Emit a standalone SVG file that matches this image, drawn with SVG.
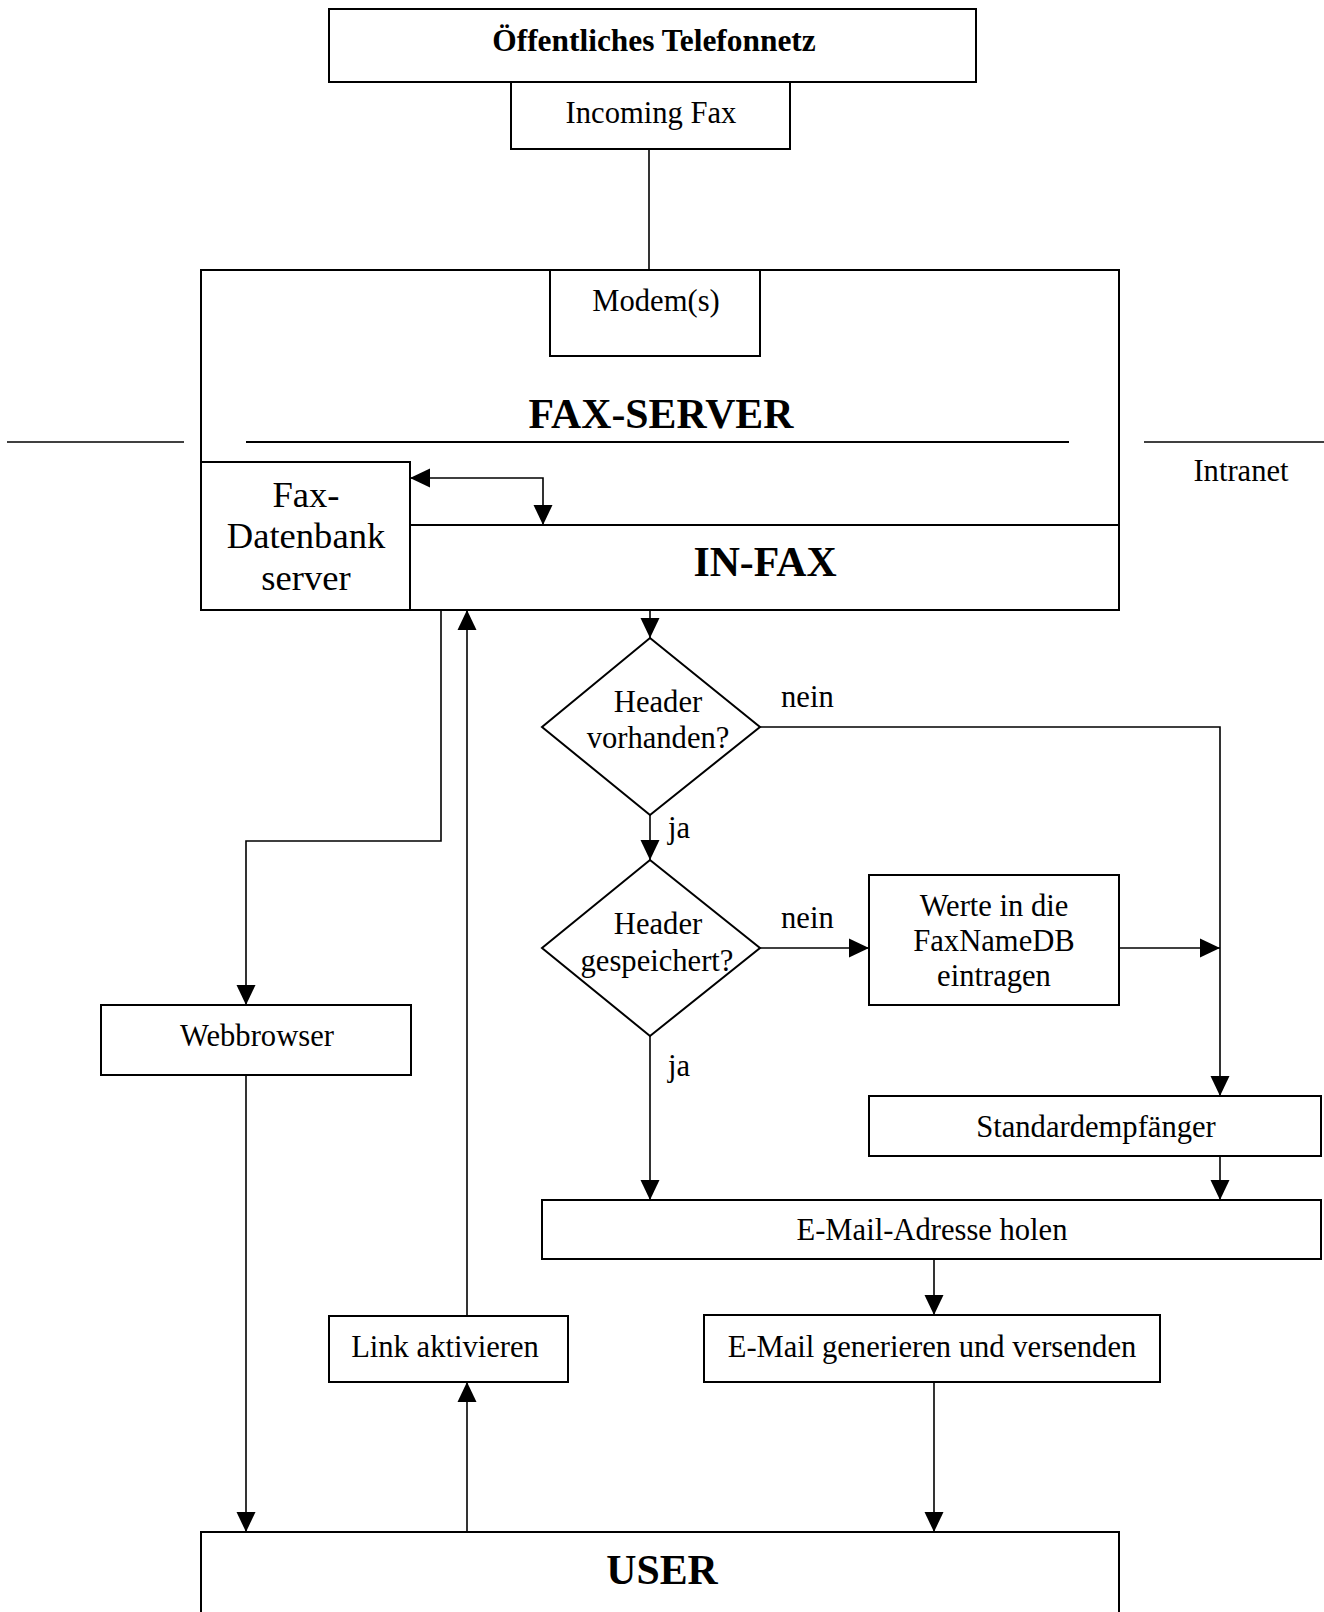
<svg xmlns="http://www.w3.org/2000/svg" width="1324" height="1612" viewBox="0 0 1324 1612">
<style>
  .box { fill: #fff; stroke: #000; stroke-width: 2; }
  .shape { fill: none; stroke: #000; stroke-width: 2; }
  .conn { fill: none; stroke: #000; stroke-width: 1.6; }
  .t { font-family: "Liberation Serif", "Times New Roman", serif; font-size: 30.6px; fill: #000; text-anchor: middle; }
  .tb { font-family: "Liberation Serif", "Times New Roman", serif; font-weight: bold; font-size: 41.8px; fill: #000; text-anchor: middle; }
  .tl { font-family: "Liberation Serif", "Times New Roman", serif; font-size: 36.6px; fill: #000; text-anchor: middle; }
  .ts { font-family: "Liberation Serif", "Times New Roman", serif; font-weight: bold; font-size: 31.4px; fill: #000; text-anchor: middle; }
  .lbl { font-family: "Liberation Serif", "Times New Roman", serif; font-size: 30.6px; fill: #000; }
</style>
<defs>
  <marker id="ah" markerWidth="20" markerHeight="20" viewBox="0 0 20 20" refX="20" refY="10" orient="auto-start-reverse" markerUnits="userSpaceOnUse">
    <path d="M0,0.5 L20,10 L0,19.5 Z" fill="#000"/>
  </marker>
</defs>
<rect width="1324" height="1612" fill="#fff"/>

<g id="intranet">
  <path class="conn" d="M7,442 H184"/>
  <path class="conn" d="M1144,442 H1324"/>
  <text class="t" x="1241" y="481">Intranet</text>
</g>

<g id="telefonnetz">
  <rect class="box" x="329" y="9" width="647" height="73"/>
  <text class="ts" x="654" y="51">Öffentliches Telefonnetz</text>
</g>

<g id="incoming-fax">
  <rect class="box" x="511" y="82" width="279" height="67"/>
  <text class="t" x="651" y="123">Incoming Fax</text>
</g>

<g id="fax-server">
  <rect class="box" x="201" y="270" width="918" height="340"/>
  <text class="tb" x="661" y="428">FAX-SERVER</text>
  <path class="shape" d="M246,442 H1069"/>
</g>

<g id="modem">
  <rect class="box" x="550" y="270" width="210" height="86"/>
  <text class="t" x="656" y="311">Modem(s)</text>
</g>

<g id="fax-datenbankserver">
  <rect class="box" x="201" y="462" width="209" height="148"/>
  <text class="tl" x="306" y="507">Fax-</text>
  <text class="tl" x="306" y="548">Datenbank</text>
  <text class="tl" x="306" y="590">server</text>
</g>

<g id="in-fax">
  <path class="shape" d="M410,525 H1119"/>
  <text class="tb" x="765" y="576">IN-FAX</text>
</g>

<g id="header-vorhanden">
  <polygon class="box" points="650,638 760,727 650,815 542,727"/>
  <text class="t" x="658" y="712">Header</text>
  <text class="t" x="658" y="748">vorhanden?</text>
</g>

<g id="header-gespeichert">
  <polygon class="box" points="650,860 760,948 650,1036 542,948"/>
  <text class="t" x="658" y="934">Header</text>
  <text class="t" x="657" y="971">gespeichert?</text>
</g>

<g id="werte-eintragen">
  <rect class="box" x="869" y="875" width="250" height="130"/>
  <text class="t" x="994" y="916">Werte in die</text>
  <text class="t" x="994" y="951">FaxNameDB</text>
  <text class="t" x="994" y="986">eintragen</text>
</g>

<g id="standardempfaenger">
  <rect class="box" x="869" y="1096" width="452" height="60"/>
  <text class="t" x="1096" y="1137">Standardempfänger</text>
</g>

<g id="email-adresse">
  <rect class="box" x="542" y="1200" width="779" height="59"/>
  <text class="t" x="932" y="1240">E-Mail-Adresse holen</text>
</g>

<g id="email-generieren">
  <rect class="box" x="704" y="1315" width="456" height="67"/>
  <text class="t" x="932" y="1357">E-Mail generieren und versenden</text>
</g>

<g id="webbrowser">
  <rect class="box" x="101" y="1005" width="310" height="70"/>
  <text class="t" x="257" y="1046">Webbrowser</text>
</g>

<g id="link-aktivieren">
  <rect class="box" x="329" y="1316" width="239" height="66"/>
  <text class="t" x="445" y="1357">Link aktivieren</text>
</g>

<g id="user">
  <rect class="box" x="201" y="1532" width="918" height="100"/>
  <text class="tb" x="662" y="1584">USER</text>
</g>

<g id="connectors">
  <path class="conn" d="M649,149 V270"/>
  <path class="conn" d="M410,478 H543 V525" marker-start="url(#ah)" marker-end="url(#ah)"/>
  <path class="conn" d="M650,610 V638" marker-end="url(#ah)"/>
  <path class="conn" d="M650,815 V860" marker-end="url(#ah)"/>
  <path class="conn" d="M760,727 H1220 V1096" marker-end="url(#ah)"/>
  <path class="conn" d="M760,948 H869" marker-end="url(#ah)"/>
  <path class="conn" d="M1119,948 H1220" marker-end="url(#ah)"/>
  <path class="conn" d="M650,1036 V1200" marker-end="url(#ah)"/>
  <path class="conn" d="M1220,1156 V1200" marker-end="url(#ah)"/>
  <path class="conn" d="M934,1259 V1315" marker-end="url(#ah)"/>
  <path class="conn" d="M934,1382 V1532" marker-end="url(#ah)"/>
  <path class="conn" d="M441,610 V841 H246 V1005" marker-end="url(#ah)"/>
  <path class="conn" d="M246,1075 V1532" marker-end="url(#ah)"/>
  <path class="conn" d="M467,1532 V1382" marker-end="url(#ah)"/>
  <path class="conn" d="M467,1316 V610" marker-end="url(#ah)"/>
  <text class="lbl" x="781" y="707">nein</text>
  <text class="lbl" x="668" y="838">ja</text>
  <text class="lbl" x="781" y="928">nein</text>
  <text class="lbl" x="668" y="1076">ja</text>
</g>
</svg>
